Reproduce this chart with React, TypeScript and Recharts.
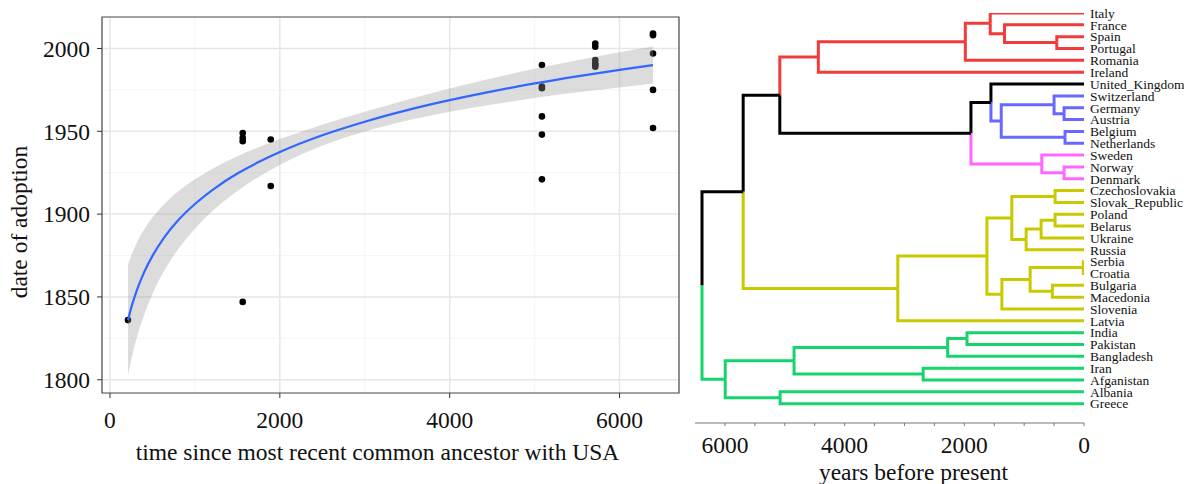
import React from 'react';
import {
  ComposedChart,
  Scatter,
  Area,
  Line,
  XAxis,
  YAxis,
  CartesianGrid,
  ReferenceArea,
  ReferenceLine,
} from 'recharts';

// ---- left panel: adoption date vs time since common ancestor with USA ----
const pointTime = [212, 1563, 1563, 1563, 1563, 1893, 1893, 5086, 5086, 5086, 5086, 5086, 5086, 5714, 5714, 5714, 5714, 5714, 5714, 6394, 6394, 6394, 6394, 6394];
const pointYear = [1836, 1949, 1946, 1944, 1847, 1945, 1917, 1990, 1977, 1976, 1959, 1948, 1921, 2003, 2001, 1993, 1991, 1990, 1989, 2009, 2008, 1997, 1975, 1952];

// fitted curve and its confidence band
const fitTime = [212, 260, 320, 400, 500, 650, 800, 1000, 1250, 1500, 1750, 2000, 2500, 3000, 3500, 4000, 4500, 5000, 5500, 6000, 6394];
const fitYear = [1836.0, 1845.2, 1854.6, 1864.7, 1874.8, 1886.7, 1896.1, 1906.1, 1916.2, 1924.5, 1931.4, 1937.5, 1947.6, 1955.8, 1962.8, 1968.8, 1974.1, 1978.9, 1983.2, 1987.1, 1990.0];
const fitLower = [1802.5, 1814.2, 1826.1, 1838.9, 1851.8, 1866.8, 1878.6, 1891.2, 1903.8, 1914.0, 1922.4, 1929.7, 1941.2, 1949.8, 1956.5, 1961.8, 1966.2, 1970.1, 1973.5, 1976.5, 1978.8];
const fitUpper = [1869.5, 1876.2, 1883.1, 1890.5, 1897.9, 1906.6, 1913.6, 1921.0, 1928.6, 1935.0, 1940.4, 1945.3, 1954.0, 1961.8, 1969.1, 1975.8, 1982.0, 1987.7, 1992.9, 1997.7, 2001.2];

const xTicks = [0, 2000, 4000, 6000];
const xMinor = [1000, 3000, 5000];
const yTicks = [1800, 1850, 1900, 1950, 2000];
const yMinor = [1825, 1875, 1925, 1975];

// ---- right panel: language tree ----
const countries = [
  'Italy', 'France', 'Spain', 'Portugal', 'Romania', 'Ireland', 'United_Kingdom', 'Switzerland',
  'Germany', 'Austria', 'Belgium', 'Netherlands', 'Sweden', 'Norway', 'Denmark', 'Czechoslovakia',
  'Slovak_Republic', 'Poland', 'Belarus', 'Ukraine', 'Russia', 'Serbia', 'Croatia', 'Bulgaria',
  'Macedonia', 'Slovenia', 'Latvia', 'India', 'Pakistan', 'Bangladesh', 'Iran', 'Afganistan',
  'Albania', 'Greece',
];
const leafCluster = [
  'red', 'red', 'red', 'red', 'red', 'red', 'black', 'blue', 'blue', 'blue', 'blue', 'blue',
  'magenta', 'magenta', 'magenta', 'yellow', 'yellow', 'yellow', 'yellow', 'yellow', 'yellow',
  'yellow', 'yellow', 'yellow', 'yellow', 'yellow', 'yellow', 'green', 'green', 'green', 'green',
  'green', 'green', 'green',
];
const clusterColor: Record<string, string> = {
  red: '#f23b3b',
  black: '#000000',
  blue: '#6868ff',
  magenta: '#ff66ff',
  yellow: '#c9c900',
  green: '#16d36b',
};

// hclust style merges: negative = leaf (1-based), positive = earlier merge row (1-based)
const mergeA = [-22, -9, -11, -14, -3, -16, -18, -8, -24, -13, 7, 1, 11, 6, -2, 12, 8, -1, -7, 14, 19, -28, 18, 22, -31, 20, 23, 24, -33, 27, 30, 28, 31];
const mergeB = [-23, -10, -12, -15, -4, -17, -19, 2, -25, 4, -20, 9, -21, 13, 5, -26, 3, 15, 17, 16, 10, -29, -5, -30, -32, -27, -6, 25, -34, 21, 26, 29, 32];
const mergeHeight = [12, 333, 317, 333, 455, 483, 483, 500, 528, 705, 717, 900, 967, 1206, 1328, 1372, 1383, 1567, 1555, 1622, 1889, 1955, 1983, 2278, 2688, 3111, 4439, 4845, 5078, 5083, 5695, 5995, 6383];

const axisTicks = [0, 500, 1000, 1500, 2000, 2500, 3000, 3500, 4000, 4500, 5000, 5500, 6000];
const gridYears = [0, 500, 1000, 1500, 2000, 2500, 3000, 3500, 4000, 4500, 5000, 5500, 6000, 6500];

const FONT = "'Liberation Serif', 'Times New Roman', serif";
const AXIS_FS = 23.5;
const X_DOMAIN = [-94, 6700];
const Y_DOMAIN = [1792, 2019];

const points = pointTime.map((t, i) => ({ x: t, y: pointYear[i] }));
const fit = fitTime.map((t, i) => ({ x: t, fit: fitYear[i], band: [fitLower[i], fitUpper[i]] }));

type Branch = { color: string; points: { x: number; y: number }[] };

const buildBranches = () => {
  const nodeY: number[] = [];
  const nodeLeaves: number[][] = [];
  const out: Branch[] = [];
  const child = (ref: number) =>
    ref < 0
      ? { h: 0, y: -ref - 1, leaves: [-ref - 1] }
      : { h: mergeHeight[ref - 1], y: nodeY[ref - 1], leaves: nodeLeaves[ref - 1] };

  mergeA.forEach((a, i) => {
    const h = mergeHeight[i];
    const ca = child(a);
    const cb = child(mergeB[i]);
    const y = (ca.y + cb.y) / 2;
    nodeY[i] = y;
    nodeLeaves[i] = [...ca.leaves, ...cb.leaves];
    [ca, cb].forEach(c => {
      // branch takes the cluster colour only if everything under it is in one cluster
      const groups = new Set(c.leaves.map(l => leafCluster[l]));
      const color = groups.size === 1 ? clusterColor[leafCluster[c.leaves[0]]] : '#000000';
      out.push({ color, points: [{ x: c.h, y: c.y }, { x: h, y: c.y }, { x: h, y }] });
    });
  });
  return out;
};

const branches = buildBranches();
const leafIdx = countries.map((_, i) => i);

const Dot = (p: any) => <circle cx={p.cx} cy={p.cy} r={3.3} fill="#000" />;

export default function App() {
  return (
    <div style={{ position: 'absolute', left: 0, top: 0, width: 1184, height: 484, background: '#fff', fontFamily: FONT }}>
      {/* scatter, grid and axes */}
      <div style={{ position: 'absolute', left: 0, top: 0 }}>
        <ComposedChart width={700} height={484} margin={{ top: 17, right: 21, bottom: 0, left: 0 }}>
          <CartesianGrid horizontalValues={yMinor} verticalValues={xMinor} stroke="#f3f3f3" strokeWidth={0.8} />
          <CartesianGrid horizontalValues={yTicks} verticalValues={xTicks} stroke="#e6e6e6" strokeWidth={1.5} />
          <XAxis
            type="number"
            dataKey="x"
            domain={X_DOMAIN}
            ticks={xTicks}
            interval={0}
            height={91}
            tickSize={5}
            tickMargin={13}
            axisLine={false}
            tickLine={{ stroke: '#333' }}
            tick={{ fontSize: AXIS_FS, fill: '#111', fontFamily: FONT }}
            allowDataOverflow
            label={{ value: 'time since most recent common ancestor with USA', position: 'center', dx: -13, dy: 13, style: { fontSize: AXIS_FS, fill: '#111', fontFamily: FONT } }}
          />
          <YAxis
            type="number"
            dataKey="y"
            domain={Y_DOMAIN}
            ticks={yTicks}
            interval={0}
            width={102}
            tickSize={5}
            tickMargin={7}
            axisLine={false}
            tickLine={{ stroke: '#333' }}
            tick={{ fontSize: AXIS_FS, fill: '#111', fontFamily: FONT }}
            allowDataOverflow
            label={{ value: 'date of adoption', angle: -90, position: 'center', dx: -32, dy: 17, style: { fontSize: AXIS_FS, fill: '#111', fontFamily: FONT, textAnchor: 'middle' } }}
          />
          <Scatter data={points} dataKey="y" shape={Dot} isAnimationActive={false} />
          <ReferenceArea x1={X_DOMAIN[0]} x2={X_DOMAIN[1]} y1={Y_DOMAIN[0]} y2={Y_DOMAIN[1]} fill="none" stroke="#444" strokeWidth={1.2} />
        </ComposedChart>
      </div>

      {/* smooth + band on top of the points (same scales), so covered points show grey */}
      <div style={{ position: 'absolute', left: 0, top: 0, pointerEvents: 'none' }}>
        <ComposedChart width={700} height={484} margin={{ top: 17, right: 21, bottom: 91, left: 102 }}>
          <XAxis type="number" dataKey="x" domain={X_DOMAIN} allowDataOverflow hide />
          <YAxis type="number" domain={Y_DOMAIN} allowDataOverflow hide />
          <Area data={fit} dataKey="band" type="monotone" fill="#999999" fillOpacity={0.34} stroke="none" isAnimationActive={false} />
          <Line data={fit} dataKey="fit" type="monotone" stroke="#3366ff" strokeWidth={2.2} dot={false} isAnimationActive={false} />
        </ComposedChart>
      </div>

      {/* dendrogram */}
      <div style={{ position: 'absolute', left: 680, top: 0 }}>
        <ComposedChart width={504} height={484} margin={{ top: 13, right: 0, bottom: 0, left: 15 }}>
          <XAxis
            type="number"
            dataKey="x"
            domain={[0, 6500]}
            reversed
            ticks={axisTicks}
            interval={0}
            height={61}
            tickSize={3}
            tickMargin={10}
            axisLine={{ stroke: '#777' }}
            tickLine={{ stroke: '#777' }}
            tickFormatter={(v: number) => (v % 2000 === 0 ? String(v) : '')}
            tick={{ fontSize: AXIS_FS, fill: '#111', fontFamily: FONT }}
            allowDataOverflow
            label={{ value: 'years before present', position: 'center', dx: 24, dy: 18, style: { fontSize: AXIS_FS, fill: '#111', fontFamily: FONT } }}
          />
          <YAxis
            type="number"
            dataKey="y"
            orientation="right"
            reversed
            domain={[0, 34.63]}
            ticks={leafIdx}
            interval={0}
            width={100}
            tickSize={0}
            tickMargin={6}
            axisLine={false}
            tickLine={false}
            tickFormatter={(i: number) => countries[i]}
            tick={{ fontSize: 13.5, fill: '#111', fontFamily: FONT }}
            allowDataOverflow
          />
          {gridYears.map(g => (
            <ReferenceLine
              key={g}
              segment={[{ x: g, y: -0.05 }, { x: g, y: 33.2 }]}
              stroke={g % 1000 === 0 ? '#bdbdbd' : '#d6d6d6'}
              strokeWidth={1.5}
            />
          ))}
          {branches.map((b, i) => (
            <Line
              key={i}
              data={b.points}
              dataKey="y"
              type="linear"
              stroke={b.color}
              strokeWidth={3}
              dot={false}
              activeDot={false}
              isAnimationActive={false}
            />
          ))}
        </ComposedChart>
      </div>
    </div>
  );
}
